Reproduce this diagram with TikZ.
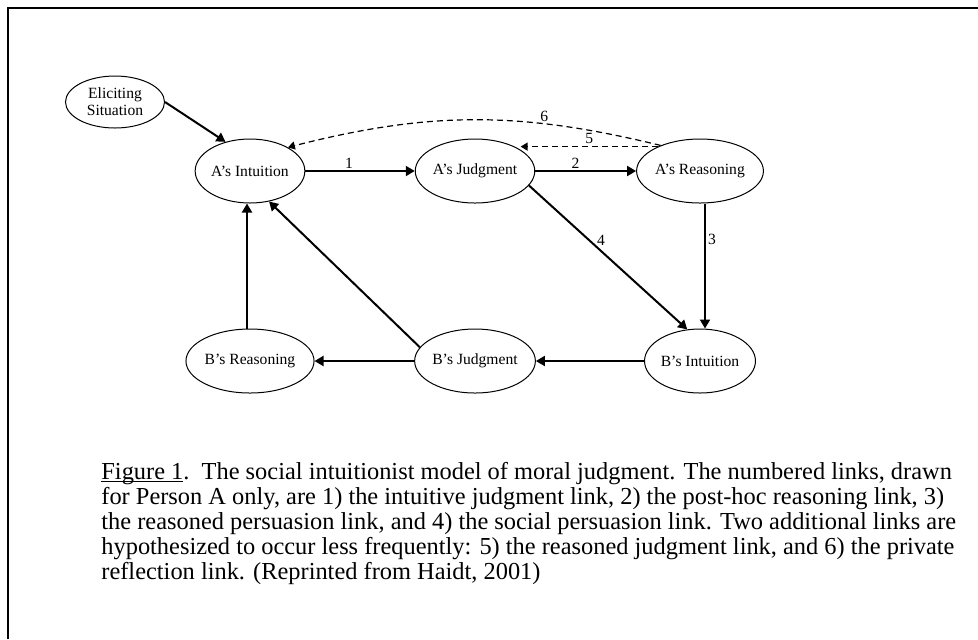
\documentclass[tikz,border=0pt]{standalone}
\usepackage{fontspec}
\setmainfont{Liberation Serif}
\usetikzlibrary{shapes.geometric,arrows.meta}
\tikzset{
  state/.style={ellipse, draw, line width=0.5pt, inner sep=0pt, minimum width=53pt,
    minimum height=32pt, align=center, font=\fontsize{7.8}{8.5}\selectfont},
  wide/.style={state, minimum width=57.5pt},
  link/.style={line width=1pt, -{Triangle[length=4.5pt,width=5pt]}},
  weak/.style={line width=0.6pt, dash pattern=on 3pt off 2pt, -{Triangle[length=3.5pt,width=4pt]}},
  num/.style={font=\fontsize{7.8}{8.5}\selectfont, inner sep=1pt}
}
\begin{document}
\begin{tikzpicture}[x=0.5pt, y=-0.5pt]
  \useasboundingbox (0,0) rectangle (978,639);
  \draw[line width=1pt] (7.5,639) -- (7.5,7.5) -- (978,7.5);

  \node[state, minimum width=49.5pt, minimum height=26pt] (es) at (115,102) {Eliciting\\Situation};
  \node[state] (ai) at (250,171) {A's Intuition};
  \node[wide] (aj) at (475,171) {A's Judgment};
  \node[state] (ar) at (700,171) {A's Reasoning};
  \node[state] (br) at (250,361) {B's Reasoning};
  \node[wide] (bj) at (475,361) {B's Judgment};
  \node[state] (bi) at (700,361) {B's Intuition};

  \draw[link] (es.east) -- (ai.130);
  \draw[link] (ai) -- (aj) node[num, pos=0.4, above] {1};
  \draw[link] (aj) -- (ar) node[num, pos=0.4, above] {2};
  \draw[link] ([xshift=2.5pt]ar.south) -- ([xshift=2.5pt]bi.north) node[num, pos=0.29, right] {3};
  \draw[link] (aj.-15) -- (bi.112) node[num, pos=0.38, right=2.5pt] {4};
  \draw[weak] (ar.150) -- (aj.25 |- ar.150) node[num, midway, above] {5};
  \draw[weak] (ar.147) to[bend right=14] node[num, pos=0.3, above] {6} (ai.32);
  \draw[link] (bi) -- (bj);
  \draw[link] (bj) -- (br);
  \draw[link] (bj.166) -- (ai.-58);
  \draw[link] ([xshift=-1.5pt]br.north) -- ([xshift=-1.5pt]ai.south);

  \node[anchor=base west, inner sep=0pt] (caption) at (101,479) {\parbox[t]{470pt}{\fontsize{12.2}{12.6}\selectfont
    \underline{\smash{Figure 1}}.\ \ The social intuitionist model of moral judgment. The numbered links, drawn\\
    for Person A only, are 1) the intuitive judgment link, 2) the post-hoc reasoning link, 3)\\
    the reasoned persuasion link, and 4) the social persuasion link. Two additional links are\\
    hypothesized to occur less frequently: 5) the reasoned judgment link, and 6) the private\\
    reflection link. (Reprinted from Haidt, 2001)}};
\end{tikzpicture}
\end{document}
